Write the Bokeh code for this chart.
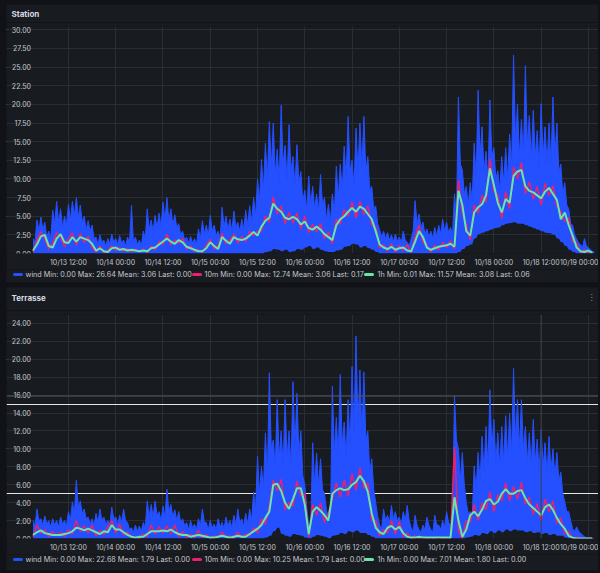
from datetime import datetime, timedelta
from bokeh.plotting import figure
from bokeh.models import (Range1d, FixedTicker, DatetimeTickFormatter, Span, Grid)
from bokeh.core.properties import value
from bokeh.layouts import column
from bokeh.embed import file_html
from bokeh.resources import INLINE

# ---------------- data (hourly samples from 10/13 03:00) ----------------
START = "2023-10-13 03:00"

x_tick_times = ["2023-10-13 12:00", "2023-10-14 00:00", "2023-10-14 12:00", "2023-10-15 00:00",
                "2023-10-15 12:00", "2023-10-16 00:00", "2023-10-16 12:00", "2023-10-17 00:00",
                "2023-10-17 12:00", "2023-10-18 00:00", "2023-10-18 12:00", "2023-10-19 00:00"]

station_yticks = [0, 2.5, 5, 7.5, 10, 12.5, 15, 17.5, 20, 22.5, 25, 27.5, 30]
terrasse_yticks = [0, 2, 4, 6, 8, 10, 12, 14, 16, 18, 20, 22, 24]

# Station: hourly gust peaks, half-hour dense-band level, band floor, 10m and 1h averages
station_wind_hi = [
    2.0, 4.5, 4.9, 4.2, 3.0, 5.8, 7.0, 6.0, 5.0, 6.6, 7.0, 7.5,
    6.5, 5.0, 4.4, 3.8, 2.2, 2.5, 1.8, 2.0, 2.6, 2.0, 2.4, 1.8,
    2.2, 6.5, 2.2, 1.8, 3.0, 6.0, 4.5, 5.1, 5.4, 6.9, 7.5, 6.0,
    5.2, 4.0, 3.0, 2.2, 2.3, 2.0, 3.3, 4.4, 3.8, 5.1, 3.8, 3.0,
    6.2, 5.0, 4.6, 5.7, 4.2, 4.6, 5.8, 6.4, 7.5, 10.0, 12.6, 14.8,
    17.7, 17.5, 14.0, 19.9, 14.5, 17.3, 13.0, 14.6, 11.0, 8.5, 10.4, 9.0,
    8.0, 10.6, 7.5, 6.6, 8.0, 11.7, 12.0, 14.4, 18.4, 12.5, 16.8, 17.5,
    18.4, 13.0, 9.0, 6.4, 3.2, 3.0, 2.8, 2.5, 2.6, 2.2, 3.0, 1.5,
    2.0, 7.1, 5.3, 4.2, 3.3, 3.0, 3.5, 3.8, 4.6, 4.2, 3.5, 8.0,
    21.0, 11.2, 9.0, 9.5, 14.8, 21.9, 17.0, 13.7, 20.6, 14.2, 11.1, 13.0,
    14.2, 16.0, 26.6, 20.0, 18.0, 25.2, 18.5, 19.2, 16.5, 20.1, 17.0, 17.5,
    21.0, 17.5, 12.0, 9.5, 6.0, 3.8, 2.0, 1.2, 2.0, 0.8, 0.3]
station_wind_body = [
    1.5, 3.0, 3.2, 2.2, 2.0, 4.0, 4.2, 3.5, 3.8, 4.5, 5.0, 4.8,
    4.2, 3.2, 3.0, 2.0, 1.2, 1.5, 1.0, 1.3, 1.5, 1.2, 1.4, 1.0,
    1.4, 1.5, 1.2, 1.0, 2.0, 3.2, 3.0, 3.4, 3.6, 4.5, 4.4, 3.8,
    3.5, 2.5, 1.8, 1.4, 1.4, 1.2, 2.0, 2.6, 2.4, 3.0, 2.4, 2.0,
    3.6, 3.2, 3.0, 3.5, 3.0, 3.2, 3.8, 4.2, 5.0, 7.0, 8.5, 10.0,
    11.5, 10.5, 9.5, 12.0, 9.8, 11.0, 9.0, 9.5, 7.0, 5.8, 6.5, 6.0,
    5.6, 6.5, 4.5, 4.2, 5.5, 7.5, 8.5, 10.0, 11.0, 9.0, 11.0, 11.5,
    11.0, 8.5, 6.0, 4.0, 2.2, 2.0, 1.8, 1.6, 1.6, 1.5, 1.8, 1.0,
    3.0, 4.0, 3.5, 2.6, 2.2, 2.0, 2.3, 2.6, 3.0, 2.8, 2.5, 5.0,
    12.0, 8.0, 6.5, 7.0, 10.0, 13.0, 11.0, 10.0, 13.0, 10.0, 8.5, 9.5,
    10.0, 11.5, 15.0, 13.0, 13.0, 14.5, 12.5, 13.0, 11.5, 13.0, 12.0, 12.0,
    13.0, 11.0, 8.0, 6.5, 4.0, 2.5, 1.4, 0.8, 1.0, 0.5, 0.2]
station_wind_lo = [
    0, 0, 0, 0, 0, 0, 0, 0, 0, 0, 0, 0,
    0, 0, 0, 0, 0, 0, 0, 0, 0, 0, 0, 0,
    0, 0, 0, 0, 0, 0, 0, 0, 0, 0, 0, 0,
    0, 0, 0, 0, 0, 0, 0, 0, 0, 0, 0, 0,
    0, 0, 0, 0, 0, 0, 0, 0, 0, 0, 0.0, 0.2,
    0.3, 0.6, 0.5, 0.3, 0.5, 0.2, 0.3, 0.6, 0.5, 0.8, 1.0, 0.6,
    0.8, 0.5, 0.3, 0.2, 0.2, 0.4, 0.5, 0.9, 1.0, 1.3, 1.2, 0.8,
    1.0, 0.7, 0.5, 0.2, 0, 0, 0, 0, 0, 0, 0, 0,
    0, 0, 0, 0, 0, 0, 0, 0, 0, 0, 0, 0,
    0.2, 0.6, 1.0, 1.2, 2.0, 2.6, 2.8, 3.0, 3.2, 3.4, 3.5, 3.8,
    4.0, 4.1, 4.2, 4.0, 4.0, 3.8, 3.6, 3.4, 3.2, 3.0, 2.8, 2.7,
    2.5, 2.0, 1.5, 1.0, 0.5, 0.2, 0, 0, 0, 0, 0]
station_10m = [
    0.2, 1.8, 2.9, 1.9, 0.6, 1.4, 2.8, 2.2, 0.9, 2.0, 2.8, 1.1,
    2.7, 1.5, 2.3, 0.8, 0.2, 1.0, 0.1, 0.4, 1.0, 0.4, 0.8, 0.3,
    0.7, 0.2, 0.6, 0.2, 0.6, 0.1, 1.0, 0.5, 1.6, 1.2, 2.6, 1.2,
    1.8, 1.4, 2.0, 0.6, 1.0, 0.3, 0.5, 0.1, 1.1, 1.9, 0.6, 1.0,
    2.7, 1.3, 1.8, 2.6, 1.4, 2.3, 1.6, 3.0, 2.4, 3.0, 3.0, 5.0,
    4.2, 7.6, 5.3, 6.4, 4.0, 5.5, 4.1, 5.4, 3.3, 5.0, 2.8, 3.9,
    2.9, 4.0, 2.0, 2.9, 1.3, 4.6, 3.9, 5.9, 5.0, 6.9, 4.8, 7.0,
    5.2, 6.4, 3.8, 3.6, 0.8, 1.2, 0.3, 1.3, 0.2, 1.1, 0.4, 1.2,
    0.1, 2.2, 3.8, 1.5, 1.1, 0.2, 1.1, 0.5, 1.5, 0.8, 1.7, 0.6,
    9.8, 5.4, 3.9, 1.8, 6.5, 5.4, 7.8, 6.9, 12.7, 8.3, 7.9, 4.7,
    8.3, 6.0, 11.6, 10.0, 12.2, 8.0, 9.6, 7.3, 9.0, 6.5, 9.4, 7.8,
    9.1, 6.3, 5.6, 4.3, 4.8, 1.6, 1.4, 0.1, 0.5, 0.1, 0.2]
station_1h = [
    0.4, 1.2, 2.3, 2.5, 1.0, 0.8, 2.0, 2.6, 1.5, 1.4, 2.2, 1.6,
    2.2, 2.0, 1.8, 1.3, 0.4, 0.7, 0.3, 0.2, 0.7, 0.8, 0.5, 0.6,
    0.4, 0.5, 0.4, 0.3, 0.4, 0.3, 0.7, 0.8, 1.2, 1.6, 2.0, 1.6,
    1.3, 1.8, 1.5, 0.9, 0.7, 0.5, 0.3, 0.3, 0.7, 1.5, 1.0, 0.6,
    2.2, 1.7, 1.3, 2.2, 1.9, 1.8, 2.0, 2.4, 2.9, 2.4, 3.6, 4.4,
    4.8, 6.7, 6.0, 5.6, 4.8, 4.6, 4.9, 4.6, 3.9, 4.3, 3.4, 3.2,
    3.6, 3.2, 2.6, 2.2, 1.8, 3.8, 4.6, 5.0, 5.6, 6.1, 5.6, 6.3,
    6.0, 5.3, 4.6, 3.0, 1.2, 0.8, 0.6, 0.9, 0.5, 0.7, 0.8, 0.4,
    0.3, 1.6, 3.0, 2.2, 0.8, 0.5, 0.7, 0.9, 1.0, 1.1, 1.3, 0.9,
    8.4, 6.5, 3.0, 2.4, 5.5, 6.2, 6.6, 7.8, 11.4, 9.2, 6.8, 5.5,
    7.3, 6.8, 10.4, 11.0, 11.2, 9.0, 8.4, 8.2, 7.8, 7.4, 8.3, 8.8,
    8.0, 7.2, 4.6, 5.5, 3.8, 2.4, 0.8, 0.3, 0.2, 0.4, 0.1]

# Terrasse
terrasse_wind_hi = [
    2.0, 3.3, 2.2, 2.5, 2.0, 2.2, 2.0, 2.4, 2.0, 3.0, 4.1, 6.5,
    4.2, 3.3, 2.4, 2.2, 2.8, 3.3, 2.4, 2.0, 3.5, 2.4, 2.6, 3.3,
    1.8, 1.2, 1.5, 1.4, 1.8, 4.2, 3.8, 4.2, 3.0, 3.6, 5.5, 3.8,
    3.2, 3.0, 2.2, 1.8, 2.0, 1.6, 2.2, 3.3, 1.8, 2.0, 1.6, 2.2,
    1.8, 2.4, 2.0, 2.6, 3.3, 2.2, 2.8, 3.3, 5.2, 9.2, 8.0, 11.8,
    18.5, 11.0, 15.5, 12.0, 15.5, 12.0, 17.5, 16.2, 12.0, 6.0, 1.5, 10.7,
    9.5, 8.9, 5.0, 2.2, 17.0, 13.5, 18.3, 13.0, 15.5, 19.2, 22.6, 18.8,
    18.6, 12.0, 8.9, 4.0, 1.5, 3.3, 2.6, 3.7, 3.0, 2.4, 3.0, 3.7,
    1.2, 2.6, 1.0, 1.5, 2.4, 1.0, 2.6, 1.5, 2.0, 3.0, 1.5, 15.9,
    10.0, 9.6, 4.0, 3.0, 8.1, 9.6, 11.4, 12.5, 16.6, 13.3, 11.8, 12.5,
    13.7, 14.0, 19.0, 15.5, 15.5, 12.5, 11.8, 13.3, 11.1, 12.2, 10.7, 11.4,
    10.0, 9.6, 7.4, 4.1, 3.0, 1.1, 1.3, 0.6, 0.2, 0.1, 0.0]
terrasse_wind_body = [
    1.4, 2.0, 1.5, 1.6, 1.3, 1.5, 1.3, 1.6, 1.4, 2.0, 2.8, 3.5,
    2.8, 2.2, 1.6, 1.5, 1.8, 2.0, 1.6, 1.5, 2.2, 1.6, 1.8, 2.0,
    1.0, 0.7, 0.8, 0.8, 1.2, 2.5, 2.4, 2.6, 2.0, 2.4, 3.0, 2.4,
    2.0, 1.8, 1.4, 1.0, 1.2, 1.0, 1.4, 1.8, 1.0, 1.2, 1.0, 1.3,
    1.1, 1.4, 1.2, 1.5, 1.8, 1.4, 1.6, 2.0, 3.2, 5.0, 5.5, 7.0,
    10.0, 8.0, 9.0, 8.0, 9.0, 8.0, 10.0, 9.5, 7.0, 3.5, 1.0, 6.0,
    6.0, 5.5, 3.2, 1.5, 9.5, 9.0, 10.5, 9.0, 10.0, 11.5, 12.5, 11.5,
    11.0, 7.5, 5.5, 2.5, 1.0, 2.0, 1.8, 2.2, 2.0, 1.6, 2.0, 2.0,
    0.8, 1.5, 0.7, 1.0, 1.5, 0.7, 1.5, 1.0, 1.3, 1.8, 1.0, 11.0,
    6.5, 6.0, 2.8, 2.5, 5.5, 6.5, 7.5, 8.0, 10.0, 8.5, 8.0, 8.5,
    9.0, 9.5, 11.0, 10.0, 10.0, 8.5, 8.0, 8.5, 7.5, 8.0, 7.2, 7.5,
    7.0, 6.5, 5.0, 3.0, 2.0, 0.8, 0.8, 0.4, 0.1, 0.1, 0.0]
terrasse_wind_lo = [
    0, 0, 0, 0, 0, 0, 0, 0, 0, 0, 0, 0,
    0, 0, 0, 0, 0, 0, 0, 0, 0, 0, 0, 0,
    0, 0, 0, 0, 0, 0, 0, 0, 0, 0, 0, 0,
    0, 0, 0, 0, 0, 0, 0, 0, 0, 0, 0, 0,
    0, 0, 0, 0, 0, 0, 0, 0, 0, 0, 0, 0.1,
    0.3, 0.8, 1.2, 0.5, 0.3, 0.2, 0.5, 0.4, 0.3, 0.1, 0.0, 0.2,
    0.4, 0.3, 0.2, 0.0, 0.3, 0.4, 0.6, 0.5, 0.8, 0.7, 0.9, 0.6,
    0.6, 0.4, 0.2, 0.0, 0, 0, 0, 0, 0, 0, 0, 0,
    0, 0, 0, 0, 0, 0, 0, 0, 0, 0, 0, 0,
    0, 0, 0.1, 0.2, 0.4, 0.3, 0.6, 0.5, 0.8, 0.6, 0.9, 0.7,
    1.0, 0.8, 1.0, 0.9, 0.9, 0.7, 0.8, 0.6, 0.7, 0.5, 0.6, 0.4,
    0.5, 0.3, 0.3, 0.1, 0, 0, 0, 0, 0, 0, 0]
terrasse_10m = [
    0.2, 1.5, 0.6, 1.0, 0.2, 0.8, 0.3, 0.7, 0.2, 1.0, 0.5, 2.0,
    0.8, 1.4, 0.6, 1.5, 0.3, 0.9, 0.4, 1.3, 2.0, 0.6, 1.6, 0.4,
    0.7, 0.1, 0.2, 0.0, 0.5, 0.2, 1.5, 0.5, 1.3, 0.6, 1.4, 0.5,
    1.5, 0.2, 0.8, 0.1, 0.5, 0.1, 0.9, 0.1, 0.4, 0.0, 0.3, 0.1,
    0.7, 0.1, 0.3, 0.0, 0.7, 0.1, 0.5, 0.3, 1.2, 0.6, 2.2, 1.6,
    3.6, 6.5, 5.3, 6.6, 3.2, 4.0, 3.6, 6.4, 4.8, 5.0, 0.2, 3.8,
    2.6, 4.0, 1.8, 2.8, 4.4, 6.2, 4.6, 6.5, 4.7, 7.2, 5.4, 7.9,
    5.6, 6.2, 2.0, 2.0, 0.3, 1.0, 0.6, 2.0, 0.5, 1.9, 0.2, 0.6,
    0.0, 0.3, 0.0, 0.2, 0.0, 0.1, 0.0, 0.2, 0.0, 0.1, 0.0, 10.2,
    0.8, 0.0, 2.0, 1.8, 3.8, 2.0, 4.0, 3.2, 5.2, 3.0, 4.9, 4.2,
    6.2, 4.2, 5.8, 4.4, 6.3, 3.8, 4.6, 2.7, 3.9, 2.0, 4.4, 3.0,
    4.2, 1.7, 2.3, 0.5, 0.8, 0.0, 0.1, 0.0, 0.0, 0.0, 0.0]
terrasse_1h = [
    0.4, 0.7, 0.9, 0.6, 0.5, 0.4, 0.4, 0.4, 0.5, 0.6, 0.8, 1.2,
    1.1, 0.9, 1.1, 0.9, 0.7, 0.5, 0.8, 0.7, 1.5, 1.0, 1.0, 0.7,
    0.4, 0.2, 0.1, 0.2, 0.2, 0.5, 0.8, 0.8, 0.8, 0.9, 0.8, 1.0,
    0.7, 0.5, 0.4, 0.4, 0.2, 0.3, 0.4, 0.3, 0.2, 0.1, 0.1, 0.2,
    0.3, 0.2, 0.1, 0.2, 0.3, 0.2, 0.2, 0.5, 0.8, 1.1, 1.5, 2.3,
    3.0, 6.0, 6.1, 5.3, 4.0, 3.3, 4.4, 5.6, 5.6, 3.8, 0.5, 3.0,
    3.5, 3.1, 2.6, 2.0, 5.0, 5.4, 5.6, 5.4, 5.5, 6.0, 6.3, 7.0,
    6.4, 5.2, 2.8, 1.2, 0.7, 0.5, 1.2, 1.4, 1.0, 1.3, 0.6, 0.2,
    0.1, 0.1, 0.2, 0.1, 0.1, 0.1, 0.1, 0.1, 0.1, 0.1, 0.1, 4.6,
    2.0, 0.2, 1.0, 2.6, 3.0, 2.5, 3.2, 4.2, 4.4, 3.8, 4.1, 5.0,
    5.5, 5.0, 5.0, 5.3, 5.4, 4.5, 3.8, 3.4, 3.0, 2.6, 3.5, 3.8,
    3.2, 2.3, 1.6, 1.1, 0.3, 0.1, 0.0, 0.0, 0.0, 0.0, 0.0]

station_legend = ["wind  Min: 0.00  Max: 26.64  Mean: 3.06  Last: 0.00",
                  "10m  Min: 0.00  Max: 12.74  Mean: 3.06  Last: 0.17",
                  "1h  Min: 0.01  Max: 11.57  Mean: 3.08  Last: 0.06"]
terrasse_legend = ["wind  Min: 0.00  Max: 22.68  Mean: 1.79  Last: 0.00",
                   "10m  Min: 0.00  Max: 10.25  Mean: 1.79  Last: 0.00",
                   "1h  Min: 0.00  Max: 7.01  Mean: 1.80  Last: 0.00"]
terrasse_cursor_value = 15.9
terrasse_cursor_time = "2023-10-18 12:00"

# ---------------- styling / layout ----------------
PAGE_BG = "#111217"
PANEL_BG = "#181b1f"
GRID = "#2a2d33"
TEXT = "#c6c7d1"
BLUE = "#2450ff"
RED = "#ee1f6e"
GREEN = "#66e6a8"
FONT = "Inter"
PANEL_W = 592
PLOT_LEFT_PX = 26.5              # where the time axis data area begins inside a panel
PX_PER_HOUR = 3.939
YLABEL_RIGHT_PX = 24.5           # right edge of the value labels
TITLE_X = 5
MENU_X = 585
LEG_SWATCH_X = [8, 187, 359]     # legend swatch left edges (px inside panel)
LEG_TEXT_X = [19, 198, 371]      # legend label left edges (px inside panel)

t0 = datetime.strptime(START, "%Y-%m-%d %H:%M")
EPOCH = datetime(1970, 1, 1)


def ms(dt):
    return (dt - EPOCH).total_seconds() * 1000.0


def px_time(px):
    return t0 + timedelta(hours=(px - PLOT_LEFT_PX) / PX_PER_HOUR)


def times(arr, shift=0.0):
    return [t0 + timedelta(hours=i + shift) for i in range(len(arr))]


X_START = px_time(0)
X_END = px_time(PANEL_W)
DATA_END = px_time(PANEL_W - 3)

tick_ms = [ms(datetime.strptime(s, "%Y-%m-%d %H:%M")) for s in x_tick_times]
FMT = "%m/%d %H:%M"


def interleave(a, b):
    out = []
    for u, v in zip(a, b):
        out.extend([u, v])
    return out


def blank(height):
    f = figure(width=PANEL_W, height=height, output_backend="svg", toolbar_location=None,
               x_range=Range1d(0, PANEL_W), y_range=Range1d(0, height),
               x_axis_location=None, y_axis_location=None,
               min_border=0, background_fill_color=PANEL_BG, border_fill_color=PANEL_BG,
               outline_line_color=None)
    f.grid.visible = False
    return f


def make_header(title, height, yc, menu=False):
    h = blank(height)
    h.text(x=[TITLE_X], y=[yc], text=[title], text_font=value(FONT), text_font_size="8px",
           text_font_style="bold", text_color="#d8d9e3", text_baseline="middle", text_align="left")
    if menu:
        h.text(x=[MENU_X], y=[yc], text=["\u22ee"], text_font=value("DejaVu Sans"),
               text_font_size="8px", text_color="#9a9ba3", text_baseline="middle", text_align="center")
    return h


def make_legend(labels, height, yc):
    lg = blank(height)
    lg.segment(x0=LEG_SWATCH_X, y0=[yc] * 3, x1=[x + 7 for x in LEG_SWATCH_X], y1=[yc] * 3,
               line_color=[BLUE, RED, GREEN], line_width=3, line_cap="round")
    lg.text(x=LEG_TEXT_X, y=[yc] * 3, text=labels, text_font=value(FONT),
            text_font_size="7.2px", text_color=TEXT, text_baseline="middle", text_align="left")
    return lg


def make_chart(hi, body, lo, m10, h1, yticks, ytop, height, bottom_border):
    p = figure(width=PANEL_W, height=height, x_axis_type="datetime",
               y_axis_location=None,
               output_backend="svg", toolbar_location=None,
               x_range=Range1d(X_START, X_END),
               y_range=Range1d(0, ytop),
               background_fill_color=PANEL_BG, border_fill_color=PANEL_BG,
               outline_line_color=None,
               min_border_left=0, min_border_right=0,
               min_border_top=4, min_border_bottom=bottom_border)

    xa = p.xaxis[0]
    xa.ticker = FixedTicker(ticks=tick_ms)
    xa.formatter = DatetimeTickFormatter(microseconds=FMT, milliseconds=FMT, seconds=FMT, minsec=FMT,
                                         minutes=FMT, hourmin=FMT, hours=FMT, days=FMT,
                                         months=FMT, years=FMT)
    xa.axis_line_color = None
    xa.major_tick_line_color = None
    xa.minor_tick_line_color = None
    xa.major_tick_out = 0
    xa.major_tick_in = 0
    xa.minor_tick_out = 0
    xa.major_label_text_font = FONT
    xa.major_label_text_font_size = "7px"
    xa.major_label_text_color = TEXT
    xa.major_label_standoff = 4
    p.xgrid.grid_line_color = GRID

    # horizontal grid over the data area only, value labels to its left
    p.add_layout(Grid(dimension=1, ticker=FixedTicker(ticks=yticks), grid_line_color=GRID,
                      bounds=(ms(t0), ms(DATA_END))))
    lab_x = px_time(YLABEL_RIGHT_PX)
    p.text(x=[lab_x] * len(yticks), y=yticks, text=["%.2f" % v for v in yticks],
           text_font=value(FONT), text_font_size="7px", text_color=TEXT,
           text_align="right", text_baseline="middle")

    # wind: gust peaks on the hour, dense level on the half hour
    wx = interleave(times(hi), times(body, 0.5))
    wtop = interleave(hi, body)
    wbot = interleave(lo, lo)
    p.varea(x=wx, y1=wbot, y2=wtop, fill_color=BLUE, fill_alpha=1.0)
    p.line(wx, wtop, line_color=BLUE, line_width=1)
    p.line(times(m10), m10, line_color=RED, line_width=1.5)
    p.line(times(h1), h1, line_color=GREEN, line_width=2)
    return p


hd1 = make_header("Station", 18, 9)
p1 = make_chart(station_wind_hi, station_wind_body, station_wind_lo, station_10m, station_1h,
                station_yticks, 30.45, 247, 13)
l1 = make_legend(station_legend, 13, 8)

hd2 = make_header("Terrasse", 23, 13, menu=True)
p2 = make_chart(terrasse_wind_hi, terrasse_wind_body, terrasse_wind_lo, terrasse_10m, terrasse_1h,
                terrasse_yticks, 25.0, 244, 14)
l2 = make_legend(terrasse_legend, 16, 11)
# hover cursor lines
p2.add_layout(Span(location=terrasse_cursor_value, dimension="width",
                   line_color="#55575e", line_width=1))
p2.add_layout(Span(location=ms(datetime.strptime(terrasse_cursor_time, "%Y-%m-%d %H:%M")),
                   dimension="height", line_color="#3e4047", line_width=1))

lay = column(column(hd1, p1, l1, spacing=0), column(hd2, p2, l2, spacing=0), spacing=5,
             styles={"background-color": PAGE_BG})
html = file_html(lay, INLINE, title="wind")
html = html.replace("</head>",
                    "<style>html,body{background:%s !important;} body{margin:4px 0 0 6px !important;}</style></head>" % PAGE_BG,
                    1)
open("out.html", "w").write(html)
